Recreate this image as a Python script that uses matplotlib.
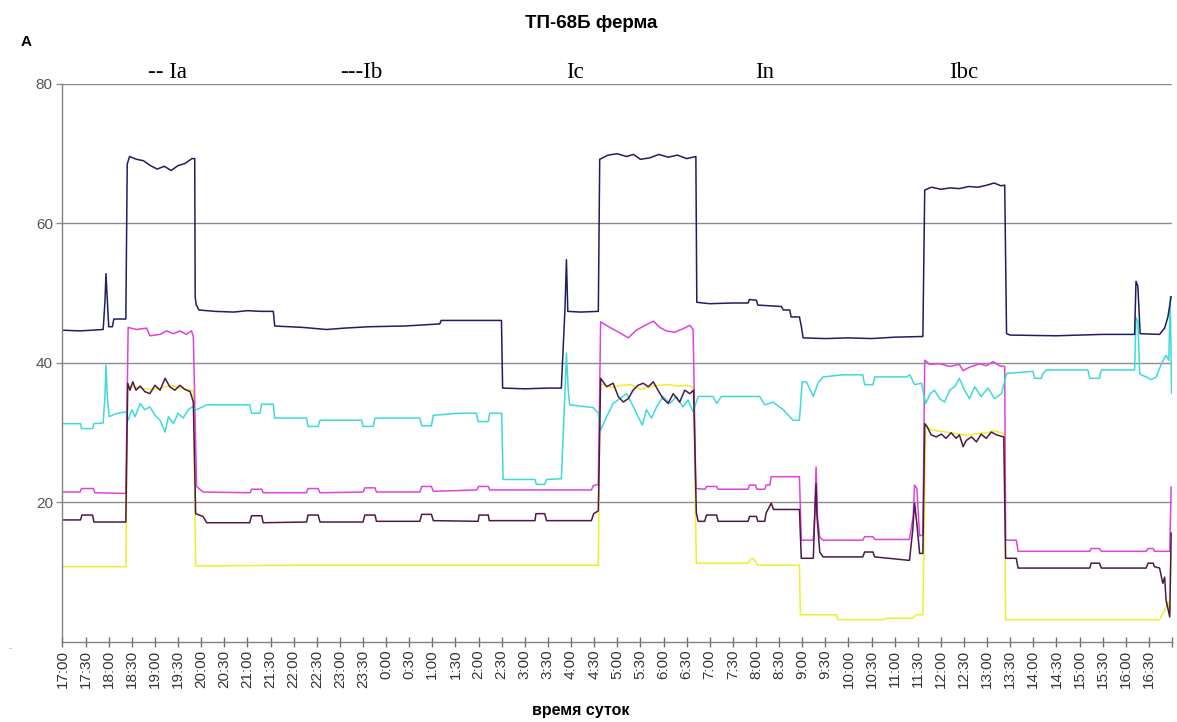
import numpy as np
import matplotlib.pyplot as plt

# time = hours after 17:00, values in A
navy_t = [0.0, 0.38, 0.88, 0.92, 0.94, 0.97, 1.0, 1.08, 1.11, 1.37,
          1.40, 1.45, 1.6, 1.75, 1.9, 2.05, 2.2, 2.35, 2.5, 2.65, 2.8, 2.86,
          2.87, 2.89, 2.95, 3.3, 3.7, 4.0, 4.3, 4.56, 4.59, 5.2, 5.71, 6.1, 6.64, 7.4, 8.16, 8.19,
          9.495, 9.52, 10.0, 10.5, 10.79, 10.87, 10.90, 10.93, 11.2, 11.59,
          11.62, 11.8, 12.0, 12.2, 12.35, 12.5, 12.7, 12.9, 13.1, 13.3, 13.5, 13.7,
          13.72, 14.0, 14.5, 14.83, 14.86, 15.01, 15.04, 15.55, 15.59, 15.73, 15.76, 15.94, 15.98, 16.02,
          16.5, 17.0, 17.5, 18.0, 18.61,
          18.65, 18.8, 19.0, 19.2, 19.4, 19.6, 19.8, 20.0, 20.15, 20.3, 20.38,
          20.42, 20.5, 21.5, 22.5, 23.19, 23.22, 23.26, 23.31, 23.73, 23.84, 23.91, 23.98]
navy_v = [44.7, 44.6, 44.8, 49.0, 52.8, 49.0, 45.2, 45.2, 46.3, 46.3,
          68.5, 69.6, 69.2, 69.0, 68.3, 67.8, 68.2, 67.6, 68.3, 68.6, 69.3, 69.3,
          49.5, 48.4, 47.6, 47.4, 47.3, 47.5, 47.4, 47.4, 45.3, 45.1, 44.8, 45.0, 45.2, 45.3, 45.6, 46.1,
          46.1, 36.4, 36.3, 36.4, 36.4, 48.0, 54.8, 47.4, 47.3, 47.4,
          69.2, 69.8, 70.0, 69.6, 69.9, 69.2, 69.4, 69.9, 69.5, 69.8, 69.3, 69.6,
          48.7, 48.5, 48.6, 48.6, 49.1, 49.0, 48.3, 48.1, 47.6, 47.6, 46.6, 46.6, 45.3, 43.6,
          43.5, 43.6, 43.5, 43.7, 43.8,
          64.8, 65.2, 64.9, 65.1, 65.0, 65.3, 65.2, 65.5, 65.8, 65.4, 65.5,
          44.2, 44.0, 43.9, 44.1, 44.1, 51.7, 51.0, 44.2, 44.1, 45.0, 46.6, 49.5]

magenta_t = [0.0, 0.38, 0.41, 0.67, 0.70, 1.37,
             1.42, 1.60, 1.82, 1.89, 2.11, 2.25, 2.40, 2.54, 2.68, 2.79, 2.83,
             2.90, 3.04, 4.06, 4.09, 4.31, 4.34, 5.28, 5.31, 5.53, 5.57, 6.50, 6.54, 6.76, 6.79,
             7.73, 7.77, 7.98, 8.02, 8.96, 9.0, 9.21, 9.24, 11.44, 11.48, 11.59,
             11.64, 11.84, 12.06, 12.24, 12.41, 12.63, 12.78, 12.92, 13.06, 13.24, 13.42, 13.57, 13.64,
             13.70, 13.90, 13.93, 14.15, 14.18, 14.83, 14.86, 14.99, 15.02, 15.19, 15.22, 15.30, 15.33,
             15.94, 15.98, 16.24, 16.27, 16.30, 16.33, 16.38, 16.45, 17.31, 17.35, 17.53, 17.57,
             18.32, 18.40, 18.43, 18.48, 18.54, 18.61,
             18.65, 18.76, 18.97, 19.19, 19.40, 19.48, 19.62, 19.84, 19.98, 20.13, 20.27, 20.38,
             20.40, 20.63, 20.67, 22.22, 22.25, 22.43, 22.47, 23.44, 23.48, 23.59, 23.62, 23.95, 23.98]
magenta_v = [21.5, 21.5, 22.0, 22.0, 21.4, 21.3,
             45.1, 44.8, 45.0, 43.9, 44.1, 44.6, 44.2, 44.6, 44.1, 44.6, 43.8,
             22.3, 21.5, 21.4, 21.9, 21.9, 21.4, 21.4, 22.0, 22.0, 21.4, 21.5, 22.1, 22.1, 21.5,
             21.5, 22.3, 22.3, 21.6, 21.8, 22.3, 22.3, 21.8, 21.8, 22.4, 22.6,
             45.9, 45.1, 44.3, 43.6, 44.7, 45.5, 46.0, 45.1, 44.6, 44.4, 44.9, 45.4, 44.8,
             22.0, 21.9, 22.3, 22.3, 21.9, 21.9, 22.5, 22.5, 21.9, 21.9, 22.5, 22.5, 23.7,
             23.7, 14.6, 14.6, 18.0, 25.1, 18.0, 15.0, 14.6, 14.6, 15.1, 15.1, 14.7,
             14.7, 18.0, 22.5, 22.0, 15.2, 15.4,
             40.4, 39.8, 39.9, 39.5, 39.8, 38.9, 39.4, 39.9, 39.6, 40.2, 39.6, 39.5,
             14.6, 14.6, 13.0, 13.0, 13.4, 13.4, 13.0, 13.0, 13.4, 13.4, 13.0, 13.0, 22.2]

cyan_t = [0.0, 0.39, 0.41, 0.65, 0.68, 0.88, 0.92, 0.94, 0.97, 1.01, 1.14, 1.37,
          1.42, 1.50, 1.57, 1.68, 1.78, 1.89, 2.00, 2.11, 2.22, 2.29, 2.40, 2.50, 2.61, 2.72, 2.81,
          2.90, 3.12, 4.05, 4.09, 4.27, 4.31, 4.56, 4.59, 5.28, 5.31, 5.53, 5.57, 6.47, 6.50, 6.72,
          6.76, 7.73, 7.77, 7.98, 8.02, 8.59, 8.95, 8.99, 9.21, 9.24, 9.50,
          9.53, 10.22, 10.25, 10.43, 10.47, 10.79, 10.87, 10.90, 10.94, 10.97, 11.48, 11.59,
          11.64, 11.77, 11.91, 12.06, 12.20, 12.35, 12.45, 12.54, 12.63, 12.74, 12.85, 12.99,
          13.14, 13.28, 13.42, 13.53, 13.64,
          13.75, 14.07, 14.15, 14.25, 15.08, 15.19, 15.37, 15.59, 15.80, 15.94, 16.0,
          16.09, 16.24, 16.34, 16.45, 16.88, 17.31, 17.35, 17.53, 17.57, 18.25, 18.33, 18.43, 18.58,
          18.67, 18.77, 18.86, 18.97, 19.08, 19.19, 19.30, 19.40, 19.51, 19.62, 19.73, 19.87,
          20.02, 20.16, 20.31,
          20.42, 20.99, 21.03, 21.17, 21.21, 21.28, 22.18, 22.22, 22.43, 22.47, 23.19, 23.22,
          23.26, 23.30, 23.33, 23.44, 23.55, 23.66, 23.77, 23.87, 23.93, 23.96, 23.99]
cyan_v = [31.3, 31.3, 30.6, 30.6, 31.3, 31.4, 35.5, 39.7, 35.0, 32.3, 32.7, 33.0,
          31.8, 33.3, 32.3, 34.2, 33.3, 33.7, 32.5, 31.8, 30.1, 32.3, 31.3, 32.8, 32.1, 33.3, 33.7,
          33.3, 34.0, 34.0, 32.8, 32.8, 34.1, 34.1, 32.1, 32.1, 30.9, 30.9, 31.8, 31.8, 30.9, 30.9,
          32.1, 32.1, 31.0, 31.0, 32.5, 32.8, 32.8, 31.6, 31.6, 32.8, 32.8,
          23.3, 23.3, 22.6, 22.6, 23.3, 23.4, 36.0, 41.4, 36.0, 34.0, 33.6, 32.8,
          30.4, 32.3, 34.2, 34.9, 35.6, 33.7, 32.3, 31.1, 33.3, 32.1, 33.7, 35.2,
          34.2, 35.2, 33.7, 34.7, 33.0,
          35.2, 35.2, 34.2, 35.2, 35.2, 34.0, 34.4, 33.3, 31.8, 31.8, 37.3,
          37.3, 35.2, 37.1, 38.0, 38.3, 38.3, 36.9, 36.9, 38.0, 38.0, 38.3, 36.9, 37.1,
          34.2, 35.6, 36.1, 34.9, 34.4, 36.1, 36.6, 37.8, 36.1, 34.9, 36.6, 35.2,
          36.4, 34.9, 35.6,
          38.5, 38.8, 37.8, 37.8, 38.5, 39.0, 39.0, 37.8, 37.8, 39.0, 39.0, 46.5,
          46.0, 38.5, 38.3, 38.0, 37.6, 38.0, 39.9, 41.1, 40.4, 49.5, 35.7]

purple_t = [0.0, 0.39, 0.42, 0.65, 0.68, 1.37,
            1.41, 1.46, 1.52, 1.59, 1.68, 1.78, 1.89, 2.00, 2.11, 2.22, 2.32, 2.43, 2.54, 2.65,
            2.76, 2.83,
            2.88, 3.04, 3.12, 4.05, 4.09, 4.31, 4.34, 5.28, 5.31, 5.53, 5.57, 6.50, 6.54, 6.76,
            6.79, 7.73, 7.77, 7.98, 8.02, 8.99, 9.01, 9.21, 9.23, 10.22, 10.24, 10.43, 10.47,
            11.44, 11.49, 11.59,
            11.64, 11.77, 11.91, 12.02, 12.13, 12.24, 12.34, 12.45, 12.56, 12.67, 12.78, 12.88,
            12.99, 13.10, 13.21, 13.35, 13.46, 13.57, 13.65,
            13.71, 13.75, 13.89, 13.93, 14.15, 14.18, 14.83, 14.86, 15.01, 15.04, 15.19, 15.22,
            15.33, 15.38, 15.94, 15.98, 16.24, 16.27, 16.30, 16.32, 16.38, 16.45, 17.31, 17.35,
            17.53, 17.57, 18.32, 18.39, 18.43, 18.48, 18.54, 18.61,
            18.65, 18.70, 18.79, 18.90, 19.01, 19.11, 19.22, 19.33, 19.40, 19.48, 19.55, 19.66,
            19.77, 19.87, 19.98, 20.09, 20.20, 20.36,
            20.40, 20.63, 20.67, 22.22, 22.25, 22.43, 22.47, 23.44, 23.48, 23.59, 23.62, 23.73,
            23.80, 23.84, 23.87, 23.95, 23.98]
purple_v = [17.5, 17.5, 18.2, 18.2, 17.2, 17.2,
            37.1, 36.1, 37.3, 36.1, 36.7, 35.9, 35.6, 36.8, 36.1, 37.8, 36.6, 36.1, 36.8, 36.2,
            35.9, 34.4,
            18.4, 18.0, 17.1, 17.1, 18.1, 18.1, 17.1, 17.2, 18.2, 18.2, 17.2, 17.2, 18.2, 18.2,
            17.3, 17.3, 18.3, 18.3, 17.4, 17.3, 18.2, 18.2, 17.4, 17.4, 18.4, 18.4, 17.4,
            17.4, 18.4, 18.8,
            37.8, 36.6, 37.1, 35.2, 34.4, 34.9, 36.1, 36.8, 37.1, 36.6, 37.3, 36.1,
            34.9, 34.2, 35.6, 34.4, 36.1, 35.6, 36.1,
            18.5, 17.3, 17.3, 18.2, 18.2, 17.3, 17.3, 18.0, 18.0, 17.3, 17.3, 18.5,
            19.9, 19.0, 19.0, 12.0, 12.0, 18.0, 22.7, 18.0, 12.9, 12.2, 12.2, 12.9,
            12.9, 12.2, 11.7, 16.0, 19.9, 17.0, 12.7, 12.7,
            31.3, 30.9, 29.7, 29.4, 29.8, 29.2, 30.0, 29.2, 29.7, 28.0, 28.9, 29.4,
            28.7, 29.8, 29.2, 30.1, 29.7, 29.4,
            12.0, 12.0, 10.6, 10.6, 11.3, 11.3, 10.6, 10.6, 11.3, 11.3, 10.8, 10.6,
            8.4, 9.3, 6.0, 3.6, 15.6]

yellow_t = [0.0, 1.37,
            1.41, 1.6, 1.9, 2.1, 2.35, 2.6, 2.83,
            2.88, 5.0, 8.59, 11.59,
            11.63, 11.9, 12.1, 12.3, 12.5, 12.7, 12.9, 13.1, 13.3, 13.5, 13.65,
            13.71, 14.83, 14.88, 14.94, 14.99, 15.04, 15.94,
            15.96, 16.74, 16.77, 17.75, 17.82, 18.39, 18.46, 18.61,
            18.67, 18.8, 19.0, 19.2, 19.4, 19.6, 19.8, 20.0, 20.15, 20.3, 20.37,
            20.40, 23.73, 23.84, 23.91, 23.95, 23.98]
yellow_v = [10.8, 10.8,
            36.8, 36.5, 36.2, 36.4, 36.8, 36.3, 36.0,
            10.9, 11.0, 11.0, 11.0,
            37.0, 36.5, 36.8, 36.9, 36.2, 36.6, 36.8, 36.9, 36.7, 36.8, 36.5,
            11.3, 11.3, 11.8, 12.0, 11.5, 11.0, 11.0,
            3.9, 3.9, 3.2, 3.2, 3.4, 3.4, 3.9, 3.9,
            31.0, 30.4, 30.2, 30.0, 29.8, 29.6, 29.9, 30.0, 30.3, 30.0, 29.8,
            3.2, 3.2, 4.5, 5.8, 4.0, 13.0]

tick_labels = ['17:00', '17:30', '18:00', '18:30', '19:00', '19:30', '20:00', '20:30',
               '21:00', '21:30', '22:00', '22:30', '23:00', '23:30', '0:00', '0:30',
               '1:00', '1:30', '2:00', '2:30', '3:00', '3:30', '4:00', '4:30',
               '5:00', '5:30', '6:00', '6:30', '7:00', '7:30', '8:00', '8:30',
               '9:00', '9:30', '10:00', '10:30', '11:00', '11:30', '12:00', '12:30',
               '13:00', '13:30', '14:00', '14:30', '15:00', '15:30', '16:00', '16:30']

plt.rcParams['font.family'] = ['Liberation Sans', 'DejaVu Sans']

fig = plt.figure(figsize=(11.77, 7.22), dpi=100)
ax = fig.add_axes([0.0531, 0.1108, 0.9427, 0.7729])

lw = 1.1
ax.plot(yellow_t, yellow_v, color='#eeee2c', lw=lw)
ax.plot(magenta_t, magenta_v, color='#dc44dc', lw=lw)
ax.plot(cyan_t, cyan_v, color='#3edada', lw=lw)
ax.plot(purple_t, purple_v, color='#4e1848', lw=lw)
ax.plot(navy_t, navy_v, color='#1e1e62', lw=lw)

ax.set_xlim(0, 24)
ax.set_ylim(0, 80)
ax.set_xticks(np.arange(0, 24.01, 0.5))
ax.set_xticklabels(tick_labels + [''])
ax.set_yticks([20, 40, 60, 80])
ax.set_yticklabels(['20', '40', '60', '80'])
ax.tick_params(axis='x', direction='inout', length=7, width=1, color='#707070',
               labelrotation=90, labelsize=11, labelcolor='#333333', pad=2)
ax.tick_params(axis='y', direction='out', length=4, width=1, color='#909090',
               labelsize=11, labelcolor='#555555', pad=3)
ax.yaxis.grid(True, color='#8c8c8c', lw=1)
ax.set_axisbelow(True)
for s in ['top', 'right']:
    ax.spines[s].set_visible(False)
for s in ['left', 'bottom']:
    ax.spines[s].set_color('#808080')
    ax.spines[s].set_linewidth(1)

fig.text(591 / 1177, 1 - 24 / 722, 'ТП-68Б ферма', ha='center', va='center',
         fontsize=13.5, fontweight='bold')
fig.text(26 / 1177, 1 - 42 / 722, 'А', ha='center', va='center',
         fontsize=11, fontweight='bold')
fig.text(581 / 1177, 1 - 710 / 722, 'время суток', ha='center', va='center',
         fontsize=11.5, fontweight='bold')
fig.text(10 / 1177, 1 - 648 / 722, '-', ha='center', va='center',
         fontsize=7, color='#b0b0b0')

for lab, xc in [('-- Ia', 167), ('---Ib', 361), ('Ic', 575), ('In', 765), ('Ibc', 964)]:
    fig.text(xc / 1177, 1 - 78 / 722, lab, ha='center', va='baseline',
             fontsize=16.5, family='Liberation Serif')

fig.savefig('out.png', dpi=100)
